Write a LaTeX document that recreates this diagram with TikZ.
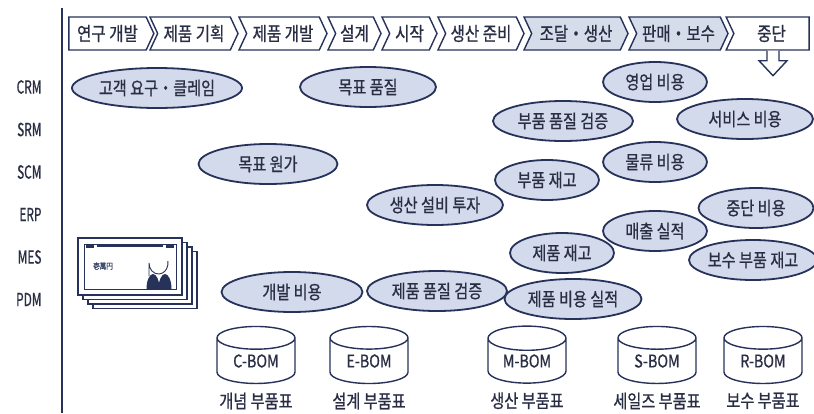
\documentclass[tikz,border=0pt]{standalone}
\usepackage{fontspec}
\setmainfont{Noto Sans CJK KR}[FakeStretch=0.82,FakeBold=0.8]
\newfontfamily\narrowfont{Noto Sans CJK KR}[FakeStretch=0.66,FakeBold=0.8]
\usetikzlibrary{shapes.geometric,shapes.symbols}
\definecolor{navy}{HTML}{27325A}
\definecolor{ink}{HTML}{2A2E44}
\definecolor{haze}{HTML}{D2DAEC}
\definecolor{band}{HTML}{D5DCEA}

\begin{document}
\begin{tikzpicture}[x=1pt,y=-1pt,text=ink,
  stage/.style={signal,signal to=east,signal from=west,
    signal pointer angle=130,draw=navy,line width=1.4pt,
    minimum height=33pt,inner sep=0pt,
    font=\fontsize{19}{19}\selectfont},
  first/.style={signal from=nowhere},
  last/.style={signal to=nowhere},
  mid/.style={},
  topic/.style={ellipse,draw=navy,line width=1.8pt,fill=haze,
    inner sep=0pt,minimum height=40pt,
    font=\fontsize{18.5}{19}\selectfont},
  sysname/.style={anchor=east,font=\narrowfont\fontsize{18}{18}\selectfont},
  bom/.style={cylinder,shape border rotate=90,aspect=0.5,
    draw=navy,line width=1.4pt,fill=white,
    minimum width=78pt,minimum height=57pt,inner sep=0pt,
    font=\fontsize{17.5}{17.5}\selectfont},
  bomlabel/.style={font=\fontsize{18.5}{19}\selectfont}]

  \fill[white] (0,0) rectangle (814,413);
  \useasboundingbox (0,0) rectangle (814,413);

  % life cycle stages
  \draw[navy,line width=2pt] (62,8) -- (62,413);
  \foreach \cx/\len/\lab/\fl/\ex [count=\i] in {
      107.5/85/연구 개발/white/first,
      194/88/제품 기획/white/mid,
      283/88/제품 개발/white/mid,
      354.5/53/설계/white/mid,
      409.5/55/시작/white/mid,
      481/86/생산 준비/white/mid,
      576/104/조달・생산/band/mid,
      678.5/99/판매・보수/band/mid,
      771.5/83/중단/white/last}
    \node[stage,\ex,fill=\fl,minimum width=\len] (st\i) at (\cx,33.5) {\lab};
  \draw[navy,line width=1.4pt,fill=white]
    ([xshift=-4.5pt]st9.south) -- ++(0,10) -- ++(-8,0) -- ++(14,15)
    -- ++(14,-15) -- ++(-8,0) -- ++(0,-10);

  % systems
  \foreach \sys [count=\i] in {CRM,SRM,SCM,ERP,MES,PDM}
    \node[sysname] (sys\i) at (45,{87+42.5*(\i-1)}) {\sys};

  % data items
  \foreach \cx/\cy/\len/\lab [count=\i] in {
      157/88/170/고객 요구・클레임,
      368/87/136/목표 품질,
      268/164/139/목표 원가,
      435/205/136/생산 설비 투자,
      563/121/140/부품 품질 검증,
      655/82/104/영업 비용,
      745/119/136/서비스 비용,
      655/162/104/물류 비용,
      547/180/104/부품 재고,
      756/208/115/중단 비용,
      655/231/104/매출 실적,
      562/253/104/제품 재고,
      753/260/112/보수 부품 재고,
      437/291/140/제품 품질 검증,
      292/292/141/개발 비용,
      573/299/137/제품 비용 실적}
    \node[topic,minimum width=\len] (tp\i) at (\cx,\cy) {\lab};

  % banknotes
  \foreach \k in {3,2,1}
    \draw[navy,line width=1.2pt,fill=white]
      ({78+5*\k},{238+4.5*\k}) rectangle ({182+5*\k},{295+4.5*\k});
  \draw[navy,line width=1.2pt,fill=white] (78,238) rectangle (182,295);
  \draw[navy,line width=0.8pt] (84,244) rectangle (176,289);
  \draw[navy,line width=2.4pt] (97,246) -- (163,246);
  \fill[navy] (86,245) rectangle (94,248);
  \fill[navy] (166,245) rectangle (174,248);
  \node[font=\fontsize{8}{8}\selectfont,text=navy] (yen) at (103,266) {壱萬円};
  \draw[navy,line width=0.9pt] (149,276) -- (149,263) arc[start angle=180,end angle=-10,x radius=9.5,y radius=11];
  \begin{scope}
    \clip (140,272) rectangle (178,289);
    \fill[navy] (153,289) ellipse[x radius=6.5,y radius=15];
    \fill[navy] (165,289) ellipse[x radius=6.5,y radius=15];
  \end{scope}

  % bills of material
  \foreach \cx/\kind/\lab in {256/C/개념,369/E/설계,527/M/생산,657/S/세일즈,763/R/보수}
    \node[bom,label={[bomlabel,yshift=-5pt]below:\lab\ 부품표}] (\kind bom) at (\cx,361) {\kind-BOM};
\end{tikzpicture}
\end{document}
